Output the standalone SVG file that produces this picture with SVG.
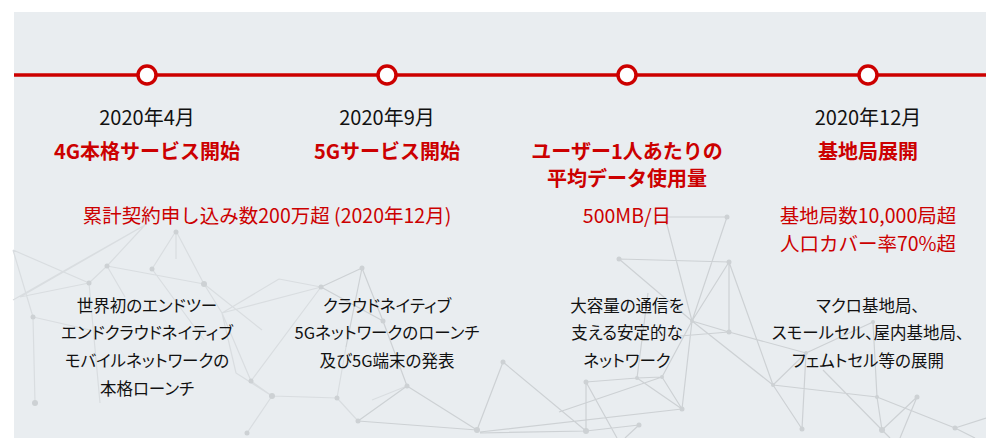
<svg xmlns="http://www.w3.org/2000/svg" width="986" height="438" viewBox="0 0 986 438">
<defs>
<style>
.bg{fill:#e9edf0}
.nl{stroke:#cdd1d4;stroke-width:1.2;fill:none}
.nl2{stroke:#d9dde0;stroke-width:1.2;fill:none}
.nd{fill:#cdd1d4}
.tl{stroke:#cc0000;stroke-width:3.5}
.ms{fill:#ffffff;stroke:#cc0000;stroke-width:3.5}
text{font-family:"Noto Sans CJK JP","Noto Sans",sans-serif;text-anchor:middle}
.date{font-size:20px;fill:#111}
.ttl{font-size:20px;font-weight:bold;fill:#cc0000}
.sub{font-size:19.5px;fill:#cc0000}
.desc{font-size:16.5px;fill:#111;font-feature-settings:"palt"}
</style>
</defs>
<rect class="bg" x="14" y="12" width="972" height="426"/>
<g id="network">
<g class="nl2">
<path d="M13,250L33,317M13,250L89,283M145,225L69,268M145,225L107,266M145,225L20,297M176,231L152,269M176,231L204,284M176,231L176,259M107,266L204,284M107,266L89,283M107,266L125,297M204,284L222,313M222,313L321,287M222,313L251,381M33,317L35,403M33,317L90,330M20,297L89,283M251,381L272,396M251,381L321,287M272,396L247,433M272,396L307,397M272,396L337,398M236,373L272,396M279,279L321,287M279,279L222,313M222,313L236,373M346,347L337,398M358,421L337,398M337,398L307,397M407,386L372,400M69,268L13,300M152,269L204,340M204,284L262,330M89,283L100,403"/>
</g>
<g class="nl">
<path d="M321,287L383,321M321,287L362,268M362,268L346,347M362,268L383,321M383,321L407,386M407,386L358,421M407,386L477,430M358,421L477,430M503,362L477,430M503,362L586,431M480,432L682,409M480,433L586,431M586,382L637,378M586,382L586,431M586,382L617,438M637,378L682,409M662,377L682,409M662,377L637,378M586,431L639,425M639,425L625,438M559,412L662,377M637,378L648,293M662,377L692,321M682,409L692,321M619,259L692,321M619,259L729,262M665,217L727,217M665,217L692,321M727,217L692,321M729,262L692,321M729,262L729,332M729,262L773,385M692,321L773,385M692,321L729,332M729,332L806,353M680,336L729,332M773,385L806,353M773,385L802,429M773,385L877,397M806,353L802,429M806,353L873,322M873,322L877,397M823,370L882,430M877,397L882,430M877,397L955,428M917,397L882,430M917,397L900,438M955,428L986,418M955,428L975,438M882,430L890,438"/>
</g>
<g class="nd">
<circle cx="176" cy="232" r="2.5"/><circle cx="107" cy="266" r="2.5"/><circle cx="152" cy="269" r="2.5"/><circle cx="204" cy="284" r="3"/><circle cx="89" cy="283" r="2.5"/><circle cx="33" cy="317" r="2.5"/><circle cx="35" cy="403" r="3"/><circle cx="251" cy="381" r="2.5"/><circle cx="272" cy="396" r="3"/><circle cx="247" cy="433" r="2.5"/><circle cx="321" cy="287" r="2.5"/><circle cx="362" cy="268" r="2.5"/><circle cx="383" cy="321" r="2.5"/><circle cx="407" cy="386" r="2.5"/><circle cx="358" cy="421" r="2.5"/><circle cx="337" cy="398" r="2.5"/><circle cx="477" cy="430" r="3"/><circle cx="503" cy="362" r="2.5"/><circle cx="586" cy="382" r="2.5"/><circle cx="637" cy="378" r="2"/><circle cx="662" cy="377" r="2"/><circle cx="682" cy="409" r="2.5"/><circle cx="586" cy="431" r="3"/><circle cx="639" cy="425" r="2.5"/><circle cx="619" cy="259" r="2.5"/><circle cx="727" cy="217" r="2.5"/><circle cx="729" cy="262" r="2.5"/><circle cx="692" cy="321" r="2"/><circle cx="729" cy="332" r="2.5"/><circle cx="773" cy="385" r="2"/><circle cx="802" cy="429" r="2.5"/><circle cx="806" cy="353" r="2"/><circle cx="873" cy="322" r="2"/><circle cx="877" cy="397" r="2"/><circle cx="917" cy="397" r="2.5"/><circle cx="882" cy="430" r="3"/><circle cx="955" cy="428" r="2.5"/>
</g>
</g>
<g id="connectors">
<line class="tl" x1="14" y1="75" x2="986" y2="75"/>
</g>
<g id="m1">
<circle class="ms" cx="147" cy="75" r="9"/>
<text class="date" x="147" y="125">2020年4月</text>
<text class="ttl" x="147" y="159">4G本格サービス開始</text>
<text class="sub" x="267" y="223">累計契約申し込み数200万超 (2020年12月)</text>
<text class="desc" x="147" y="312">世界初のエンドツー</text>
<text class="desc" x="147" y="339">エンドクラウドネイティブ</text>
<text class="desc" x="147" y="367">モバイルネットワークの</text>
<text class="desc" x="147" y="395">本格ローンチ</text>
</g>
<g id="m2">
<circle class="ms" cx="387" cy="75" r="9"/>
<text class="date" x="387" y="125">2020年9月</text>
<text class="ttl" x="387" y="159">5Gサービス開始</text>
<text class="desc" x="387" y="312">クラウドネイティブ</text>
<text class="desc" x="387" y="339">5Gネットワークのローンチ</text>
<text class="desc" x="387" y="367">及び5G端末の発表</text>
</g>
<g id="m3">
<circle class="ms" cx="627" cy="75" r="9"/>
<text class="ttl" x="627" y="159">ユーザー1人あたりの</text>
<text class="ttl" x="627" y="186">平均データ使用量</text>
<text class="sub" x="627" y="223">500MB/日</text>
<text class="desc" x="627" y="312">大容量の通信を</text>
<text class="desc" x="627" y="339">支える安定的な</text>
<text class="desc" x="627" y="367">ネットワーク</text>
</g>
<g id="m4">
<circle class="ms" cx="868" cy="75" r="9"/>
<text class="date" x="868" y="125">2020年12月</text>
<text class="ttl" x="868" y="159">基地局展開</text>
<text class="sub" x="868" y="223">基地局数10,000局超</text>
<text class="sub" x="868" y="251">人口カバー率70%超</text>
<text class="desc" x="868" y="312">マクロ基地局、</text>
<text class="desc" x="868" y="339">スモールセル、屋内基地局、</text>
<text class="desc" x="868" y="367">フェムトセル等の展開</text>
</g>
</svg>
